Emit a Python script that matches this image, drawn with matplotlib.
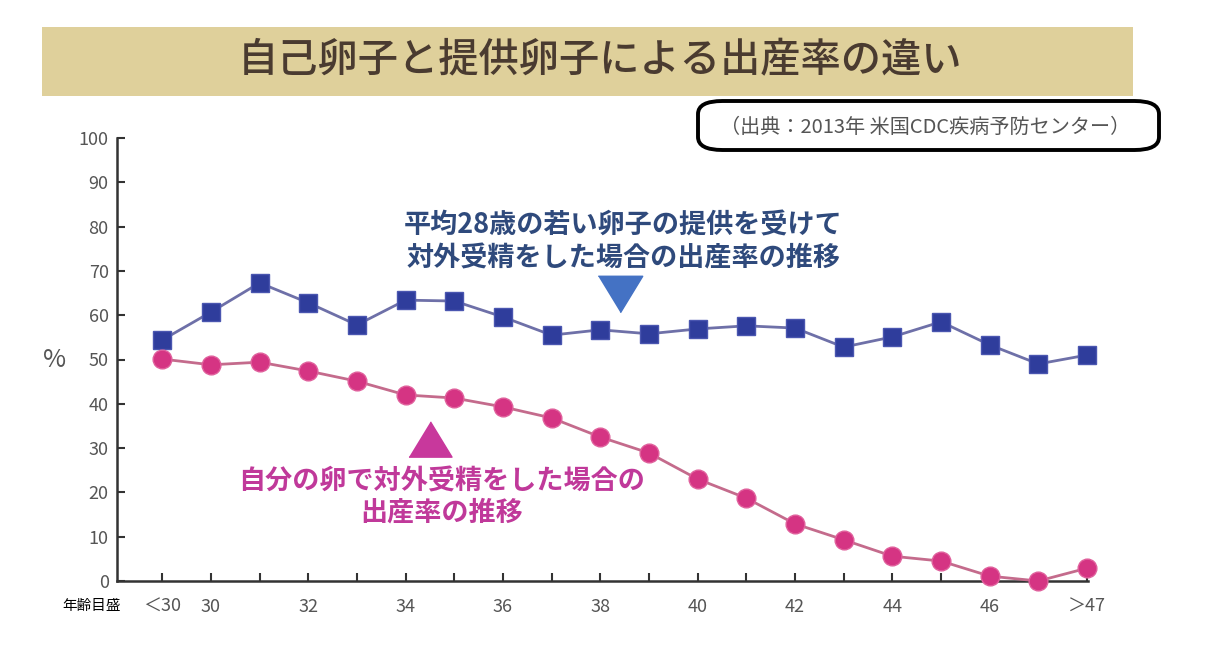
import numpy as np
import matplotlib.pyplot as plt
from matplotlib.patches import FancyBboxPatch, Rectangle

plt.rcParams['font.family'] = ['Noto Sans CJK JP', 'DejaVu Sans']

# 年齢の目盛り (<30, 30..47, >47)
ages = ['＜30'] + [str(a) for a in range(30, 48)] + ['＞47']
tick_labels = ['＜30', '30', '32', '34', '36', '38', '40', '42', '44', '46', '＞47']
tick_pos = [0, 1, 3, 5, 7, 9, 11, 13, 15, 17, 19]

# 提供卵子 (平均28歳)
donor = [54.4, 60.7, 67.3, 62.8, 57.8, 63.4, 63.2, 59.6, 55.5, 56.7,
         55.8, 56.9, 57.6, 57.1, 52.8, 55.1, 58.5, 53.3, 49.0, 51.0]
# 自己卵子
own = [50.1, 48.8, 49.4, 47.4, 45.1, 42.0, 41.3, 39.3, 36.8, 32.5,
       28.9, 23.0, 18.7, 12.9, 9.3, 5.6, 4.5, 1.1, 0.0, 2.9]

x = np.arange(len(ages))

fig = plt.figure(figsize=(12.22, 6.5), dpi=100)

# タイトル帯
fig.patches.append(Rectangle((42/1222, 1-96/650), (1133-42)/1222, 69/650,
                             transform=fig.transFigure, facecolor='#dfd09b',
                             edgecolor='none', zorder=0))
fig.text(600/1222, 1-61/650, '自己卵子と提供卵子による出産率の違い',
         ha='center', va='center', fontsize=29, fontweight='medium', color='#4a3b30')

# 出典ボックス
fig.patches.append(FancyBboxPatch((698/1222, 1-150/650), 461/1222, 49/650,
                                  boxstyle='round,pad=0,rounding_size=0.02',
                                  transform=fig.transFigure, facecolor='white',
                                  edgecolor='black', linewidth=2.8))
fig.text(925/1222, 1-127/650, '（出典：2013年 米国CDC疾病予防センター）',
         ha='center', va='center', fontsize=14.5, color='#555555')

ax = fig.add_axes([117/1222, 69/650, (1088-117)/1222, 443/650])

ax.plot(x, donor, color='#6e70a8', linewidth=2, marker='s', markersize=13.5,
        markerfacecolor='#2f3d9c', markeredgecolor='#4a56b0', clip_on=False, zorder=3)
ax.plot(x, own, color='#c46b8c', linewidth=2, marker='o', markersize=13.5,
        markerfacecolor='#d53483', markeredgecolor='#e0609c', clip_on=False, zorder=3)

ax.set_xlim(-0.93, 19.02)
ax.set_ylim(0, 100)
ax.set_yticks(np.arange(0, 101, 10))
ax.set_xticks(x, minor=True)
ax.set_xticks(tick_pos)
ax.set_xticklabels(tick_labels)

for s in ['top', 'right']:
    ax.spines[s].set_visible(False)
for s in ['left', 'bottom']:
    ax.spines[s].set_color('#333333')
    ax.spines[s].set_linewidth(1.8)

ax.tick_params(axis='y', direction='in', length=6, width=1.5, colors='#333333',
               labelcolor='#555555', labelsize=13, pad=6)
ax.tick_params(axis='x', which='both', direction='in', length=6, width=1.5,
               colors='#333333', labelcolor='#555555', labelsize=13, pad=12)

fig.text(55/1222, 1-360/650, '%', ha='center', va='center', fontsize=18, color='#555555')
fig.text(92/1222, 1-606/650, '年齢目盛', ha='center', va='center', fontsize=10.5, color='black')

# 注釈
tri_down = [(-1, 0.82), (1, 0.82), (0, -0.82)]
tri_up = [(-1, -0.82), (1, -0.82), (0, 0.82)]

ax.text(9.47, 76.6, '平均28歳の若い卵子の提供を受けて\n対外受精をした場合の出産率の推移',
        ha='center', va='center', fontsize=19.5, fontweight='bold',
        color='#2f4a7c', linespacing=1.22)
ax.plot([9.4], [64.8], marker=tri_down, markersize=32, color='#4472c4', linestyle='none')

ax.plot([5.51], [32.0], marker=tri_up, markersize=31, color='#c8389c', linestyle='none')
ax.text(5.73, 18.9, '自分の卵で対外受精をした場合の\n出産率の推移',
        ha='center', va='center', fontsize=19.5, fontweight='bold',
        color='#c0399a', linespacing=1.15)

fig.savefig('out.png', dpi=100)
